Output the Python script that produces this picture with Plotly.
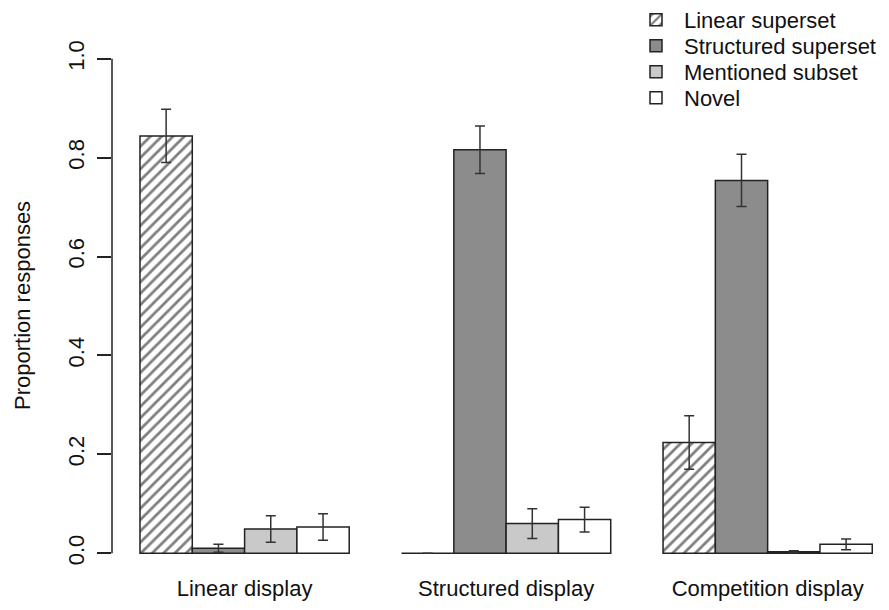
import plotly.graph_objects as go

categories = ["Linear display", "Structured display", "Competition display"]
series_names = ["Linear superset", "Structured superset", "Mentioned subset", "Novel"]

linear_superset = [0.844, 0.0, 0.224]
structured_superset = [0.010, 0.816, 0.754]
mentioned_subset = [0.049, 0.060, 0.003]
novel = [0.053, 0.068, 0.018]

linear_superset_err = [0.054, 0.0, 0.054]
structured_superset_err = [0.008, 0.048, 0.053]
mentioned_subset_err = [0.027, 0.030, 0.002]
novel_err = [0.027, 0.025, 0.011]

y_ticks = [0.0, 0.2, 0.4, 0.6, 0.8, 1.0]
y_tick_labels = ["0.0", "0.2", "0.4", "0.6", "0.8", "1.0"]

values = [linear_superset, structured_superset, mentioned_subset, novel]
errors = [linear_superset_err, structured_superset_err, mentioned_subset_err, novel_err]
fills = ["white", "#8c8c8c", "#c9c9c9", "white"]
patterns = ["/", "", "", ""]

FONT = "Liberation Sans, Arial, Helvetica, sans-serif"
FS = 22

# page has an 8px body margin: figure drawn at (8, 8)
W, H = 881, 602
ML, MT, MB, MR = 104, 31, 37, 0
PW = W - ML - MR

legend_item_y = [20, 46, 72, 98]  # page y of legend rows
legend_keys = ["legend", "legend2", "legend3", "legend4"]

fig = go.Figure()
for name, vals, errs, fill, pat, lk in zip(series_names, values, errors, fills,
                                            patterns, legend_keys):
    marker = dict(color=fill, line=dict(color="#222222", width=1.5))
    if pat:
        marker["pattern"] = dict(shape=pat, fgcolor="#000000", bgcolor="white",
                                 size=8, solidity=0.35)
    fig.add_trace(go.Bar(
        x=categories, y=vals, name=name, marker=marker, legend=lk,
        error_y=dict(type="data", array=errs, visible=True,
                     color="#333333", thickness=1.5, width=5),
    ))

fig.add_shape(type="line", xref="paper", yref="y", x0=0, x1=0, y0=0, y1=1,
              line=dict(color="#222222", width=1.5))

fig.add_annotation(text="Proportion responses", xref="paper", yref="paper",
                   x=(14 - ML) / PW, y=0.5, xanchor="center", yanchor="middle",
                   textangle=-90, showarrow=False,
                   font=dict(family=FONT, size=FS, color="#111111"))

legends = {}
for lk, yc in zip(legend_keys, legend_item_y):
    legends[lk] = dict(xref="container", yref="container", x=620 / W,
                       y=1 - (yc - 8) / H, xanchor="left", yanchor="middle",
                       bgcolor="rgba(0,0,0,0)", itemwidth=46,
                       font=dict(family=FONT, size=FS, color="#111111"))

fig.update_layout(
    width=W, height=H,
    margin=dict(l=ML, r=MR, t=MT, b=MB, autoexpand=False),
    paper_bgcolor="white", plot_bgcolor="white",
    barmode="group", bargap=0.2, bargroupgap=0.0,
    font=dict(family=FONT, size=FS, color="#111111"),
    showlegend=True,
    xaxis=dict(range=[-0.507, 2.464], showline=False, showgrid=False,
               zeroline=False, ticks="", ticklabelstandoff=0, automargin=False,
               tickfont=dict(family=FONT, size=FS, color="#111111")),
    yaxis=dict(range=[-0.04, 1.04], showline=False, showgrid=False,
               zeroline=False, ticks="outside", ticklen=14, tickwidth=1.5,
               tickcolor="#222222", tickvals=y_ticks, ticktext=y_tick_labels,
               tickangle=-90, ticklabelstandoff=4, automargin=False,
               tickfont=dict(family=FONT, size=FS, color="#111111")),
    **legends,
)

fig.write_html("out.html")
